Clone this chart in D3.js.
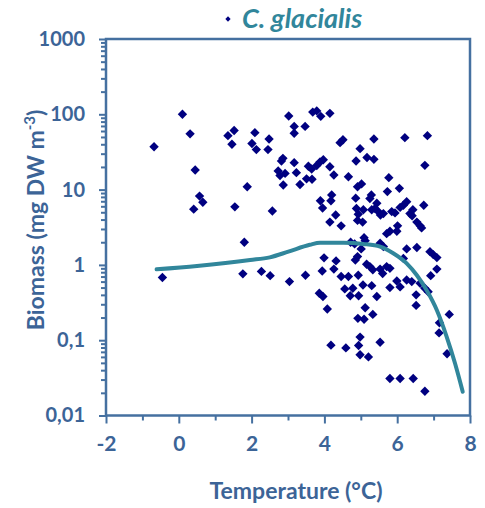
<!DOCTYPE html>
<html>
<head>
<meta charset="utf-8">
<script src="https://cdn.jsdelivr.net/npm/d3@7"></script>
<style>
  body { margin: 0; background: #fff; }
  svg { display: block; }
  .tick text { font-family: Lato, "Open Sans", sans-serif; font-weight: bold; fill: #3c6497; }
</style>
</head>
<body>
<svg id="chart" width="485" height="508"></svg>
<script>
// C. glacialis biomass vs temperature

// observed samples: temperature (°C) and biomass (mg DW m-3)
const temperature = [
  -0.68, 0.10, 0.31, 0.45, 0.57, 0.66, 0.41, 1.35, 1.52, 1.46, 2.09, 2.01, 2.13, 2.48, 2.45,
  1.54, 1.88, 1.80, 2.57, -0.45, 1.76, 2.27, 2.51, 3.02, 2.82, 2.73, 2.78, 2.92, 2.87, 3.04,
  2.86, 3.17, 3.17, 3.47, 3.68, 3.79, 3.90, 4.15, 3.17, 3.23, 3.33, 3.56, 3.65, 3.79, 3.88,
  3.97, 3.51, 3.66, 4.15, 4.26, 4.43, 4.51, 4.66, 3.89, 3.95, 4.20, 4.18, 4.31, 4.15, 4.46,
  4.91, 4.86, 4.88, 4.93, 4.91, 4.87, 4.98, 3.48, 3.99, 4.32, 3.94, 4.26, 4.46, 4.66, 3.86,
  3.96, 4.08, 4.56, 4.78, 4.71, 4.94, 4.18, 4.59, 4.72, 4.83, 4.85, 4.91, 4.93, 4.92, 4.94,
  4.98, 4.98, 5.17, 5.36, 5.36, 6.21, 6.83, 6.76, 5.77, 6.06, 5.73, 5.02, 5.29, 5.25, 6.26,
  6.17, 6.08, 6.73, 5.44, 5.39, 5.30, 5.48, 5.54, 5.62, 5.85, 5.94, 6.43, 6.35, 6.41, 5.07,
  5.05, 6.01, 5.99, 5.71, 5.80, 6.54, 6.63, 6.67, 5.53, 5.62, 6.26, 6.54, 5.09, 5.01, 5.12,
  6.17, 6.90, 6.99, 7.09, 7.09, 6.92, 5.16, 5.25, 5.33, 5.53, 5.60, 5.71, 5.80, 5.99, 6.08,
  5.80, 6.26, 6.40, 6.63, 6.52, 6.76, 6.85, 6.52, 5.06, 5.30, 5.44, 5.12, 5.09, 5.33, 7.43,
  7.16, 7.15, 5.53, 5.21, 7.37, 5.80, 6.08, 6.44, 6.76
];
const biomass = [
  37, 100, 55, 18.2, 8.2, 6.8, 5.5, 52, 61, 40, 57, 41, 34, 47, 34,
  5.9, 10.9, 2.0, 5.2, 0.68, 0.76, 0.82, 0.72, 95, 24, 17.7, 15.4, 16.4, 11.5, 0.60,
  26, 69, 56, 69, 107, 111, 94, 103, 22.8, 16.8, 11.7, 20.4, 18.8, 20.9, 23.3,
  24.9, 13.9, 13.7, 20.1, 15.6, 42, 46, 14.8, 7.1, 5.7, 8.5, 7.1, 4.6, 3.7, 3.3,
  10.9, 7.7, 5.6, 4.7, 3.9, 24, 35, 0.73, 1.24, 1.13, 0.83, 0.88, 0.70, 0.70, 0.42,
  0.38, 0.26, 0.48, 0.49, 0.39, 0.39, 0.086, 0.079, 2.0, 1.9, 1.16, 1.29, 0.73, 0.195, 0.085,
  0.11, 0.064, 26.7, 25.2, 47, 49, 52, 21, 14.4, 10.4, 9.4, 11.9, 8.5, 7.6, 6.9,
  6.2, 5.8, 6.2, 6.6, 5.6, 5.4, 5.1, 4.6, 4.8, 5.1, 4.9, 5.4, 4.8, 4.5, 5.4,
  3.7, 3.3, 2.8, 2.6, 2.8, 3.7, 3.3, 3.1, 1.94, 1.75, 1.63, 1.70, 2.3, 1.63, 2.1,
  1.22, 1.50, 1.37, 1.25, 0.88, 0.72, 1.02, 0.95, 0.86, 0.88, 0.77, 0.95, 0.90, 0.61, 0.51,
  0.50, 0.63, 0.60, 0.57, 0.40, 0.49, 0.44, 0.29, 0.54, 0.53, 0.38, 0.27, 0.19, 0.22, 0.22,
  0.17, 0.125, 0.094, 0.060, 0.066, 0.031, 0.031, 0.031, 0.021
];

// fitted response curve
const fitTemp = [-0.61, 0.5, 1.96, 2.5, 3.01, 3.6, 3.88, 4.52, 5.07, 5.53, 5.89, 6.26, 6.54, 6.81, 7.09, 7.36, 7.59, 7.80];
const fitBiomass = [0.875, 0.97, 1.16, 1.26, 1.5, 1.85, 1.97, 1.97, 1.9, 1.75, 1.43, 1.05, 0.73, 0.46, 0.25, 0.111, 0.049, 0.0207];

const xTicks = [-2, 0, 2, 4, 6, 8];
const yTicks = [0.01, 0.1, 1, 10, 100, 1000];

const axisColor = "#4570a0";
const textColor = "#3c6497";
const pointColor = "#000080";
const curveColor = "#31869b";

const svg = d3.select("#chart");

const x = d3.scaleLinear().domain([-2, 8]).range([106, 470]);
const y = d3.scaleLog().domain([0.01, 1000]).range([415.5, 39]);

// minor ticks
const xMinor = d3.range(-1, 8, 2);
const yMinor = [];
[0.01, 0.1, 1, 10, 100].forEach(d => {
    for (let k = 2; k <= 9; k++) yMinor.push(d * k);
});

const fmt = d => String(d).replace(".", ",");

// frame
svg.append("rect")
    .attr("x", x(-2)).attr("y", y(1000))
    .attr("width", x(8) - x(-2)).attr("height", y(0.01) - y(1000))
    .attr("fill", "none").attr("stroke", axisColor).attr("stroke-width", 2.5);

// x axis
svg.append("g")
    .attr("transform", `translate(0,${y(0.01)})`)
    .call(d3.axisBottom(x).tickValues(xMinor).tickSize(5).tickFormat(""))
    .call(g => g.select(".domain").remove())
    .selectAll("line").attr("stroke", axisColor).attr("stroke-width", 2);

const gx = svg.append("g")
    .attr("transform", `translate(0,${y(0.01)})`)
    .call(d3.axisBottom(x).tickValues(xTicks).tickSize(8).tickPadding(13).tickFormat(d => d));
gx.select(".domain").remove();
gx.selectAll("line").attr("stroke", axisColor).attr("stroke-width", 2);
gx.selectAll("text").attr("font-size", 21);

// y axis
svg.append("g")
    .attr("transform", `translate(${x(-2)},0)`)
    .call(d3.axisLeft(y).tickValues(yMinor).tickSize(5).tickFormat(""))
    .call(g => g.select(".domain").remove())
    .selectAll("line").attr("stroke", axisColor).attr("stroke-width", 2);

const gy = svg.append("g")
    .attr("transform", `translate(${x(-2)},0)`)
    .call(d3.axisLeft(y).tickValues(yTicks).tickSize(7).tickPadding(14).tickFormat(fmt));
gy.select(".domain").remove();
gy.selectAll("line").attr("stroke", axisColor).attr("stroke-width", 2);
gy.selectAll("text").attr("font-size", 20);

// points
const points = temperature.map((t, i) => ({ t: t, b: biomass[i] }));
const diamond = d3.symbol().type(d3.symbolSquare).size(44);

svg.append("g").selectAll("path")
    .data(points)
    .enter()
    .append("path")
    .attr("d", diamond)
    .attr("transform", d => `translate(${x(d.t)},${y(d.b)}) rotate(45)`)
    .attr("fill", pointColor);

// fitted curve
const fit = fitTemp.map((t, i) => [t, fitBiomass[i]]);
svg.append("path")
    .datum(fit)
    .attr("d", d3.line().x(d => x(d[0])).y(d => y(d[1])).curve(d3.curveMonotoneX))
    .attr("fill", "none")
    .attr("stroke", curveColor)
    .attr("stroke-width", 4)
    .attr("stroke-linecap", "round");

// legend / title
svg.append("path")
    .attr("d", d3.symbol().type(d3.symbolSquare).size(14))
    .attr("transform", "translate(228,19) rotate(45)")
    .attr("fill", pointColor);

svg.append("text")
    .attr("x", 242).attr("y", 28)
    .attr("font-family", "Lato, 'Open Sans', sans-serif")
    .attr("font-weight", "bold")
    .attr("font-style", "italic")
    .attr("font-size", 27)
    .attr("fill", curveColor)
    .text("C. glacialis");

// axis titles
svg.append("text")
    .attr("x", 296).attr("y", 499)
    .attr("text-anchor", "middle")
    .attr("font-family", "Lato, 'Open Sans', sans-serif")
    .attr("font-weight", "bold")
    .attr("font-size", 23)
    .attr("fill", textColor)
    .text("Temperature (°C)");

const yTitle = svg.append("text")
    .attr("transform", "translate(44,220) rotate(-90)")
    .attr("text-anchor", "middle")
    .attr("font-family", "Lato, 'Open Sans', sans-serif")
    .attr("font-weight", "bold")
    .attr("font-size", 23)
    .attr("fill", textColor);
yTitle.append("tspan").text("Biomass (mg DW m");
yTitle.append("tspan").attr("dy", -9).attr("font-size", 15).text("-3");
yTitle.append("tspan").attr("dy", 9).text(")");
</script>
</body>
</html>
